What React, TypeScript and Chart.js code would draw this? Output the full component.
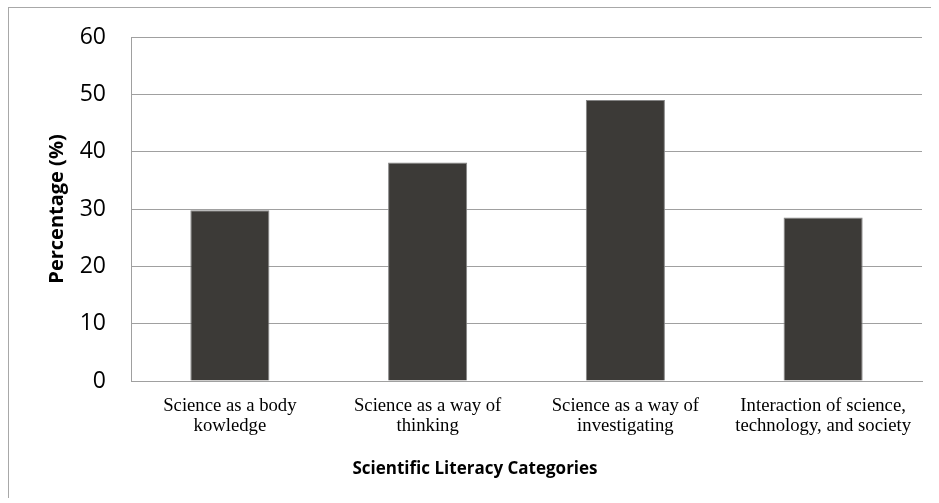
import React, { useEffect, useRef } from "react";
import { Chart, registerables } from "chart.js";

Chart.register(...registerables);

const categories: string[][] = [
  ["Science as a body", "kowledge"],
  ["Science as a way of", "thinking"],
  ["Science as a way of", "investigating"],
  ["Interaction of science,", "technology, and society"],
];
const percentages: number[] = [29.8, 38.1, 49, 28.5];
const yTicks = { min: 0, max: 60, step: 10 };
const yTitle = "Percentage (%)";
const xTitle = "Scientific Literacy Categories";

const xTitlePlugin = {
  id: "xTitlePlugin",
  afterDraw(chart: any) {
    const ctx = chart.ctx;
    ctx.save();
    ctx.font = "bold 17px 'Open Sans', sans-serif";
    ctx.fillStyle = "#000";
    ctx.textAlign = "center";
    ctx.textBaseline = "middle";
    ctx.fillText(xTitle, chart.width / 2 + 5, chart.chartArea.bottom + 88);
    ctx.restore();
  },
};

export default function App() {
  const ref = useRef<HTMLCanvasElement | null>(null);
  useEffect(() => {
    if (!ref.current) return;
    const chart = new Chart(ref.current, {
      type: "bar",
      data: {
        labels: categories,
        datasets: [
          {
            data: percentages,
            backgroundColor: "#3c3a37",
            borderColor: "#858585",
            borderWidth: 1,
            barPercentage: 0.4,
            categoryPercentage: 1,
          },
        ],
      },
      plugins: [xTitlePlugin],
      options: {
        responsive: false,
        animation: false,
        layout: { padding: { top: 29, right: 9, left: 0, bottom: 0 } },
        plugins: { legend: { display: false }, tooltip: { enabled: false } },
        scales: {
          x: {
            grid: { display: false, drawTicks: false },
            border: { display: true, color: "#a0a0a0", width: 1 },
            ticks: {
              color: "#000",
              padding: 15,
              maxRotation: 0,
              autoSkip: false,
              font: { family: "'Liberation Serif', 'Times New Roman', serif", size: 18.7, lineHeight: 1.07 },
            },
            afterFit: (s: any) => {
              s.height = 107;
            },
          },
          y: {
            min: yTicks.min,
            max: yTicks.max,
            grid: {
              color: "#a0a0a0",
              drawTicks: true,
              tickLength: 25,
              tickColor: "rgba(0,0,0,0)",
              lineWidth: 1,
            },
            border: { display: true, color: "#a0a0a0", width: 1 },
            ticks: {
              stepSize: yTicks.step,
              color: "#000",
              padding: 0,
              font: { family: "'Open Sans', sans-serif", size: 23 },
            },
            title: {
              display: true,
              text: yTitle,
              color: "#000",
              padding: { top: 36, bottom: 0 },
              font: { family: "'Open Sans', sans-serif", size: 20, weight: "bold", lineHeight: 1.2 },
            },
            afterFit: (s: any) => {
              s.width = 122;
            },
          },
        },
      },
    });
    return () => chart.destroy();
  }, []);
  return (
    <div
      style={{
        position: "absolute",
        left: 8,
        top: 7,
        borderTop: "1px solid #a8a8a8",
        borderLeft: "1px solid #a8a8a8",
        width: 922,
        height: 490,
        background: "#fff",
      }}
    >
      <canvas ref={ref} width={922} height={480} style={{ display: "block" }} />
    </div>
  );
}
